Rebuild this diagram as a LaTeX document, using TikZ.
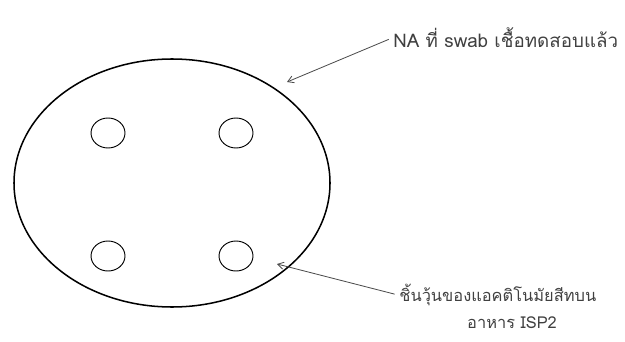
\documentclass[tikz,border=0pt]{standalone}
\usepackage{fontspec}
\newfontfamily\thaifont[Script=Thai]{Loma}
\usetikzlibrary{arrows.meta,positioning,shapes.geometric}

\begin{document}
\begin{tikzpicture}[x=0.03cm,y=-0.03cm,
  label/.style={inner sep=1pt,font=\thaifont\fontsize{14}{16}\selectfont,text=black!75},
  pointer/.style={draw=black!70,line width=0.7pt,shorten <=3pt,-{Straight Barb[length=5pt,width=6pt]}}]
  \useasboundingbox (0,0) rectangle (625,342);
  %% Plate and agar plugs
  \node[draw,ellipse,line width=1.3pt,minimum width=316*0.03cm,minimum height=248*0.03cm] (dish) at (172,183) {};
  \node[draw,ellipse,line width=0.8pt,minimum width=34*0.03cm,minimum height=30*0.03cm] (plugA) at (108,133) {};
  \node[draw,ellipse,line width=0.8pt,minimum width=34*0.03cm,minimum height=30*0.03cm] (plugB) at (236,133) {};
  \node[draw,ellipse,line width=0.8pt,minimum width=34*0.03cm,minimum height=30*0.03cm] (plugC) at (108,256) {};
  \node[draw,ellipse,line width=0.8pt,minimum width=34*0.03cm,minimum height=30*0.03cm] (plugD) at (236,256) {};
  %% Labels
  \node[label,anchor=west,font=\thaifont\fontsize{16}{18}\selectfont] (txtNA) at (392,38) {NA ที่ swab เชื้อทดสอบแล้ว};
  \node[label,anchor=west] (txtPlug) at (398,295) {ชิ้นวุ้นของแอคติโนมัยสีทบน};
  \node[label] (txtISP) at (512,323) {อาหาร ISP2};
  %% Pointers
  \coordinate (tipNA) at (287,82);
  \coordinate (tipPlug) at (277,264);
  \draw[pointer] (txtNA.west) -- (tipNA);
  \draw[pointer] (txtPlug.west) -- (tipPlug);
\end{tikzpicture}
\end{document}
